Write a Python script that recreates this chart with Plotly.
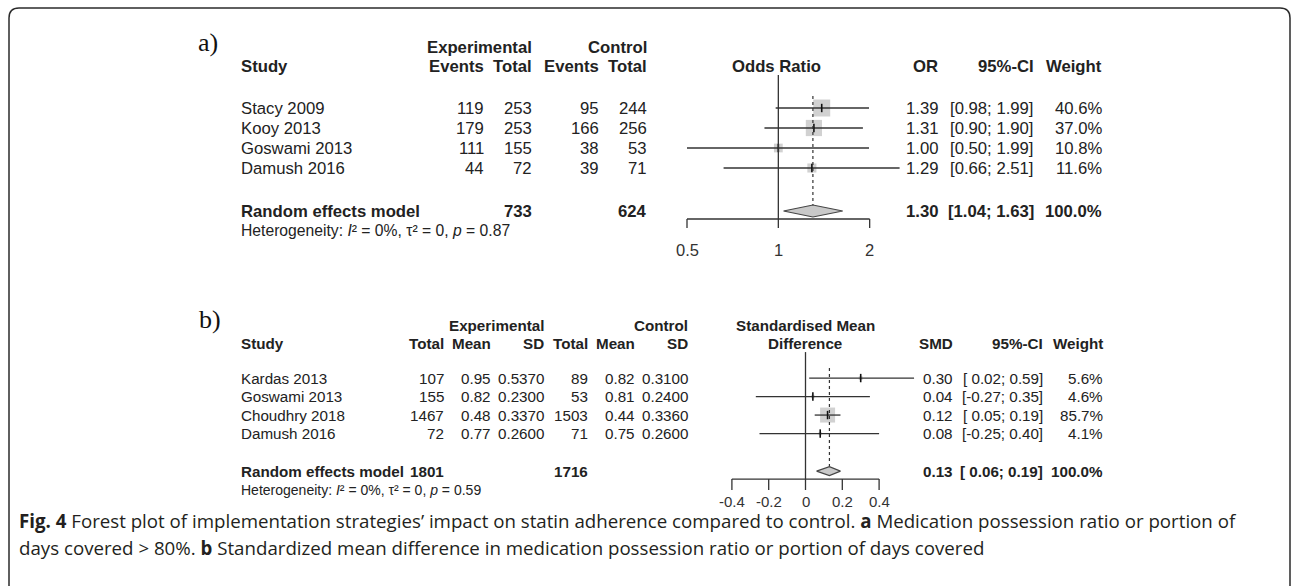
import math
import plotly.graph_objects as go

W, H = 1292, 586

# ---------------- Panel a data (odds ratio) ----------------
a_studies = ["Stacy 2009", "Kooy 2013", "Goswami 2013", "Damush 2016"]
a_exp_events = [119, 179, 111, 44]
a_exp_total = [253, 253, 155, 72]
a_ctl_events = [95, 166, 38, 39]
a_ctl_total = [244, 256, 53, 71]
a_or = [1.39, 1.31, 1.00, 1.29]
a_lo = [0.98, 0.90, 0.50, 0.66]
a_hi = [1.99, 1.90, 1.99, 2.51]
a_weight = [40.6, 37.0, 10.8, 11.6]
a_re_est, a_re_lo, a_re_hi = 1.30, 1.04, 1.63
a_re_exp_total = 733
a_re_ctl_total = 624
a_ticks = [0.5, 1, 2]
a_het_i2, a_het_tau2, a_het_p = "0%", "0", "0.87"

# ---------------- Panel b data (SMD) ----------------
b_studies = ["Kardas 2013", "Goswami 2013", "Choudhry 2018", "Damush 2016"]
b_exp_total = [107, 155, 1467, 72]
b_exp_mean = [0.95, 0.82, 0.48, 0.77]
b_exp_sd = [0.5370, 0.2300, 0.3370, 0.2600]
b_ctl_total = [89, 53, 1503, 71]
b_ctl_mean = [0.82, 0.81, 0.44, 0.75]
b_ctl_sd = [0.3100, 0.2400, 0.3360, 0.2600]
b_smd = [0.30, 0.04, 0.12, 0.08]
b_lo = [0.02, -0.27, 0.05, -0.25]
b_hi = [0.59, 0.35, 0.19, 0.40]
b_weight = [5.6, 4.6, 85.7, 4.1]
b_re_est, b_re_lo, b_re_hi = 0.13, 0.06, 0.19
b_re_exp_total = 1801
b_re_ctl_total = 1716
b_ticks = [-0.4, -0.2, 0, 0.2, 0.4]
b_het_i2, b_het_tau2, b_het_p = "0%", "0", "0.59"

caption1 = ("<b>Fig. 4</b> Forest plot of implementation strategies’ impact on statin adherence "
            "compared to control. <b>a</b> Medication possession ratio or portion of")
caption2 = ("days covered &gt; 80%. <b>b</b> Standardized mean difference in medication possession "
            "ratio or portion of days covered")

# ---------------- styling ----------------
FONT = "Liberation Sans, Arial, sans-serif"
TXT = "#222222"
LINE = "#333333"
SQ = "#bdbdbd"
DIA = "#c9c9c9"


def px_x(x):
    return x / W


def px_y(y):
    return 1 - y / H


def het_text(i2, tau2, p, size):
    it = f"font-style:italic;font-size:{size}px"
    return (f"Heterogeneity: <span style='{it}'>I</span>² = {i2}, τ² = {tau2}, "
            f"<span style='{it}'>p</span> = {p}")


fig = go.Figure()
annotations = []


def txt(x, row, text, yref, anchor="left", size=16.7, bold=False, family=FONT, color=TXT):
    annotations.append(dict(
        x=px_x(x), xref="paper", y=row, yref=yref,
        text=f"<b>{text}</b>" if bold else text,
        showarrow=False, xanchor=anchor, yanchor="middle",
        font=dict(family=family, size=size, color=color), borderpad=0,
    ))


def forest(xa, ya, est, lo, hi, weight, re_est, re_lo, re_hi, null, ticks,
           rows, re_row, dia_h, top_null, dot_top, axis_row, tick_end, lab_row,
           max_sq, lab_size, logx):
    # squares (area proportional to weight)
    wmax = max(weight)
    sizes = [max_sq * math.sqrt(w / wmax) for w in weight]
    fig.add_trace(go.Scatter(x=est, y=rows, mode="markers", xaxis=xa, yaxis=ya,
                             marker=dict(symbol="square", size=sizes, color=SQ,
                                         line=dict(width=0)),
                             hoverinfo="skip", showlegend=False))
    # CI lines
    cx, cy = [], []
    for l, h, r in zip(lo, hi, rows):
        cx += [l, h, None]
        cy += [r, r, None]
    fig.add_trace(go.Scatter(x=cx, y=cy, mode="lines", xaxis=xa, yaxis=ya,
                             line=dict(color=LINE, width=1.3),
                             hoverinfo="skip", showlegend=False))
    # point estimate ticks
    fig.add_trace(go.Scatter(x=est, y=rows, mode="markers", xaxis=xa, yaxis=ya,
                             marker=dict(symbol="line-ns", size=6,
                                         line=dict(color="#111111", width=1.6)),
                             hoverinfo="skip", showlegend=False))
    # null line
    fig.add_trace(go.Scatter(x=[null, null], y=[top_null, axis_row], mode="lines",
                             xaxis=xa, yaxis=ya, line=dict(color=LINE, width=1.3),
                             hoverinfo="skip", showlegend=False))
    # dotted line at pooled estimate
    fig.add_trace(go.Scatter(x=[re_est, re_est], y=[dot_top, re_row - dia_h], mode="lines",
                             xaxis=xa, yaxis=ya, line=dict(color=LINE, width=1.2, dash="dot"),
                             hoverinfo="skip", showlegend=False))
    # diamond
    fig.add_trace(go.Scatter(x=[re_lo, re_est, re_hi, re_est, re_lo],
                             y=[re_row, re_row - dia_h, re_row, re_row + dia_h, re_row],
                             mode="lines", fill="toself", fillcolor=DIA,
                             xaxis=xa, yaxis=ya, line=dict(color="#444444", width=1.1),
                             hoverinfo="skip", showlegend=False))
    # axis line with downward ticks
    axx = [ticks[0], ticks[-1], None]
    axy = [axis_row, axis_row, None]
    for t in ticks:
        axx += [t, t, None]
        axy += [axis_row, tick_end, None]
    fig.add_trace(go.Scatter(x=axx, y=axy, mode="lines", xaxis=xa, yaxis=ya,
                             line=dict(color=LINE, width=1.3),
                             hoverinfo="skip", showlegend=False))
    # tick labels (annotations in data coordinates of this axis)
    for t in ticks:
        annotations.append(dict(
            x=math.log10(t) if logx else t, xref=xa, y=lab_row, yref=ya,
            text=f"{t:g}", showarrow=False, xanchor="center", yanchor="middle",
            font=dict(family=FONT, size=lab_size, color="#333333"), borderpad=0))


rows = [1, 2, 3, 4]

# ---- panel a plot ----
forest("x", "y", a_or, a_lo, a_hi, a_weight, a_re_est, a_re_lo, a_re_hi, 1, a_ticks,
       rows, 6.15, 0.3, -0.65, 0.4, 6.55, 7.0, 8.1, 17, 16.5, True)
# ---- panel b plot ----
forest("x2", "y2", b_smd, b_lo, b_hi, b_weight, b_re_est, b_re_lo, b_re_hi, 0, b_ticks,
       rows, 6.03, 0.24, -0.405, 0.46, 6.46, 7.05, 7.65, 15, 15, False)

# ---- panel a table ----
SA = 16.7
txt(197, -2.3, "a)", "y", size=26, family="Liberation Serif, Times New Roman, serif", color="#111")
txt(533, -2.05, "Experimental", "y", "right", SA, True)
txt(648, -2.05, "Control", "y", "right", SA, True)
txt(240, -1.1, "Study", "y", "left", SA, True)
for x, t in [(485, "Events"), (533, "Total"), (600, "Events"), (648, "Total"),
             (939, "OR"), (1035, "95%-CI"), (1103, "Weight")]:
    txt(x, -1.1, t, "y", "right", SA, True)
txt(777, -1.1, "Odds Ratio", "y", "center", SA, True)
for i, r in enumerate(rows):
    txt(240, r, a_studies[i], "y", "left", SA)
    txt(485, r, str(a_exp_events[i]), "y", "right", SA)
    txt(533, r, str(a_exp_total[i]), "y", "right", SA)
    txt(600, r, str(a_ctl_events[i]), "y", "right", SA)
    txt(648, r, str(a_ctl_total[i]), "y", "right", SA)
    txt(939, r, f"{a_or[i]:.2f}", "y", "right", SA)
    txt(1035, r, f"[{a_lo[i]:.2f}; {a_hi[i]:.2f}]", "y", "right", SA)
    txt(1103, r, f"{a_weight[i]:.1f}%", "y", "right", SA)
txt(240, 6.15, "Random effects model", "y", "left", SA, True)
txt(533, 6.15, str(a_re_exp_total), "y", "right", SA, True)
txt(648, 6.15, str(a_re_ctl_total), "y", "right", SA, True)
txt(939, 6.15, f"{a_re_est:.2f}", "y", "right", SA, True)
txt(1035, 6.15, f"[{a_re_lo:.2f}; {a_re_hi:.2f}]", "y", "right", SA, True)
txt(1103, 6.15, f"{sum(a_weight):.1f}%", "y", "right", SA, True)
txt(240, 7.1, het_text(a_het_i2, a_het_tau2, a_het_p, 15.7), "y", "left", 15.7)

# ---- panel b table ----
SB = 15.2
txt(198, -2.14, "b)", "y2", size=26, family="Liberation Serif, Times New Roman, serif", color="#111")
txt(545, -1.86, "Experimental", "y2", "right", SB, True)
txt(689, -1.86, "Control", "y2", "right", SB, True)
txt(805, -1.86, "Standardised Mean", "y2", "center", SB, True)
txt(240, -0.89, "Study", "y2", "left", SB, True)
for x, t in [(445, "Total"), (492, "Mean"), (545, "SD"), (589, "Total"), (636, "Mean"),
             (689, "SD"), (954, "SMD"), (1044, "95%-CI"), (1104, "Weight")]:
    txt(x, -0.89, t, "y2", "right", SB, True)
txt(805, -0.89, "Difference", "y2", "center", SB, True)
for i, r in enumerate(rows):
    txt(240, r, b_studies[i], "y2", "left", SB)
    txt(445, r, str(b_exp_total[i]), "y2", "right", SB)
    txt(492, r, f"{b_exp_mean[i]:.2f}", "y2", "right", SB)
    txt(545, r, f"{b_exp_sd[i]:.4f}", "y2", "right", SB)
    txt(589, r, str(b_ctl_total[i]), "y2", "right", SB)
    txt(636, r, f"{b_ctl_mean[i]:.2f}", "y2", "right", SB)
    txt(689, r, f"{b_ctl_sd[i]:.4f}", "y2", "right", SB)
    txt(954, r, f"{b_smd[i]:.2f}", "y2", "right", SB)
    txt(1044, r, f"[{b_lo[i]:5.2f}; {b_hi[i]:.2f}]", "y2", "right", SB)
    txt(1104, r, f"{b_weight[i]:.1f}%", "y2", "right", SB)
txt(240, 6.03, "Random effects model", "y2", "left", SB, True)
txt(445, 6.03, str(b_re_exp_total), "y2", "right", SB, True)
txt(589, 6.03, str(b_re_ctl_total), "y2", "right", SB, True)
txt(954, 6.03, f"{b_re_est:.2f}", "y2", "right", SB, True)
txt(1044, 6.03, f"[{b_re_lo:5.2f}; {b_re_hi:.2f}]", "y2", "right", SB, True)
txt(1104, 6.03, f"{sum(b_weight):.1f}%", "y2", "right", SB, True)
txt(240, 7.05, het_text(b_het_i2, b_het_tau2, b_het_p, 14), "y2", "left", 14)

# ---- caption ----
for yy, t in [(520, caption1), (547, caption2)]:
    annotations.append(dict(x=px_x(17), xref="paper", y=px_y(yy), yref="paper", text=t,
                            showarrow=False, xanchor="left", yanchor="middle",
                            font=dict(family="Open Sans, sans-serif", size=18.7, color="#231f20")))

# ---- rounded frame ----
x0, y0, x1, y1, rr = 9, 8, 1290, 600, 10
path = (f"M {px_x(x0)},{px_y(y0 + rr)} Q {px_x(x0)},{px_y(y0)} {px_x(x0 + rr)},{px_y(y0)} "
        f"L {px_x(x1 - rr)},{px_y(y0)} Q {px_x(x1)},{px_y(y0)} {px_x(x1)},{px_y(y0 + rr)} "
        f"L {px_x(x1)},{px_y(y1)} L {px_x(x0)},{px_y(y1)} Z")

# ---- axes ----
a_ppd = 303.4  # px per decade
a_left, a_right, a_half = 560, 960, 687
a_range = [math.log10(0.5) - (a_half - a_left) / a_ppd, math.log10(0.5) + (a_right - a_half) / a_ppd]
b_ppu, b_zero = 184.0, 805.5
b_range = [(a_left - b_zero) / b_ppu, (a_right - b_zero) / b_ppu]

hidden = dict(visible=False, showgrid=False, zeroline=False, fixedrange=True)
fig.update_layout(
    width=W, height=H, margin=dict(l=0, r=0, t=0, b=0),
    paper_bgcolor="white", plot_bgcolor="rgba(0,0,0,0)", showlegend=False,
    xaxis=dict(domain=[px_x(a_left), px_x(a_right)], type="log", range=a_range, anchor="y", **hidden),
    yaxis=dict(domain=[px_y(262), px_y(28)], range=[8.7, -3], anchor="x", **hidden),
    xaxis2=dict(domain=[px_x(a_left), px_x(a_right)], range=b_range, anchor="y2", **hidden),
    yaxis2=dict(domain=[px_y(512), px_y(300)], range=[8.24, -3.22], anchor="x2", **hidden),
    annotations=annotations,
    shapes=[dict(type="path", path=path, xref="paper", yref="paper",
                 line=dict(color="#2b2b2b", width=1.5))],
)

fig.write_html("out.html")
